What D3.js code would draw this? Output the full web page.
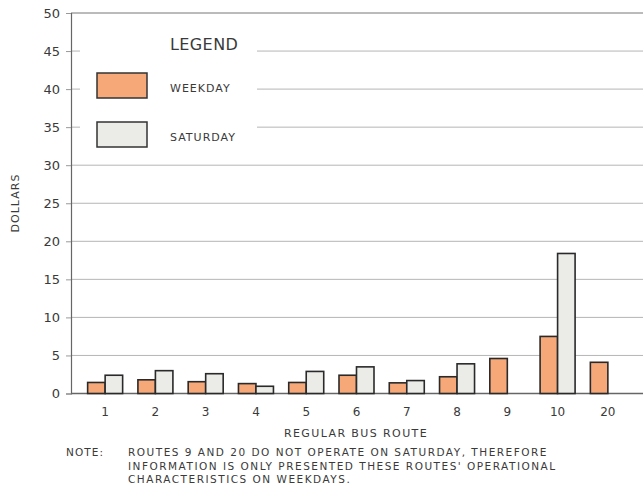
<!DOCTYPE html>
<html>
<head>
<meta charset="utf-8">
<script src="https://cdn.jsdelivr.net/npm/d3@7"></script>
<style>
body{margin:0;background:#fff;}
svg{display:block;}
text{font-family:"DejaVu Sans",sans-serif;fill:#3a3a3a;}
</style>
</head>
<body>
<svg id="chart" width="643" height="497"></svg>
<script>
const routes = ["1","2","3","4","5","6","7","8","9","10","20"];
const weekday = [1.45,1.8,1.55,1.3,1.45,2.4,1.4,2.2,4.6,7.5,4.1];
const saturday = [2.4,3.0,2.6,0.95,2.9,3.5,1.7,3.9,null,18.4,null];
const yTicks = [0,5,10,15,20,25,30,35,40,45,50];
const seriesNames = ["WEEKDAY","SATURDAY"];
const noteLines = [
  "ROUTES 9 AND 20 DO NOT OPERATE ON SATURDAY, THEREFORE",
  "INFORMATION IS ONLY PRESENTED THESE ROUTES' OPERATIONAL",
  "CHARACTERISTICS ON WEEKDAYS."
];

const colors = {WEEKDAY:"#f6a878", SATURDAY:"#ebebe7"};
const svg = d3.select("#chart");
const x0 = 71, x1 = 643, yTop = 13, yBase = 393.5;

const y = d3.scaleLinear().domain([0,50]).range([yBase,yTop]);
const x = d3.scaleBand().domain(routes).range([80,633]).padding(0);
const xc = r => x(r) + x.bandwidth()/2;
const barW = 17.5;

// gridlines
svg.append("g").selectAll("line").data(yTicks.filter(d=>d>0)).join("line")
  .attr("x1",x0).attr("x2",x1)
  .attr("y1",d=>y(d)).attr("y2",d=>y(d))
  .attr("stroke",d=>d===50?"#777":"#b5b5b5").attr("stroke-width",1);

// legend background (masks grid lines)
svg.append("rect").attr("x",80).attr("y",25).attr("width",177).attr("height",125).attr("fill","#fff");

// y axis
const yAxis = d3.axisLeft(y).tickValues(yTicks).tickSize(5).tickPadding(6);
const gy = svg.append("g").attr("transform",`translate(${x0},0)`).call(yAxis);
gy.select(".domain").attr("stroke","#666").attr("stroke-width",1.2);
gy.selectAll(".tick line").attr("stroke","#999");
gy.selectAll(".tick text").attr("font-size",13).attr("fill","#444").style("font-family","'DejaVu Sans',sans-serif");

// x axis baseline
const xAxis = d3.axisBottom(x).tickSize(0).tickPadding(14);
const gx = svg.append("g").attr("transform",`translate(0,${yBase})`).call(xAxis);
gx.select(".domain").attr("d",`M${x0},0H${x1}`).attr("stroke","#666").attr("stroke-width",1.5);
gx.selectAll(".tick text").attr("font-size",12).attr("fill","#444").style("font-family","'DejaVu Sans',sans-serif");

// bars
const bars = [];
routes.forEach((r,i)=>{
  bars.push({r, s:"WEEKDAY", v:weekday[i], off:-barW});
  if(saturday[i]!==null) bars.push({r, s:"SATURDAY", v:saturday[i], off:0});
});
svg.append("g").selectAll("rect").data(bars).join("rect")
  .attr("x",d=>xc(d.r)+d.off)
  .attr("y",d=>y(d.v))
  .attr("width",barW)
  .attr("height",d=>yBase-y(d.v))
  .attr("fill",d=>colors[d.s])
  .attr("stroke","#2a2a2a").attr("stroke-width",1.6);

// legend
svg.append("text").attr("x",170).attr("y",50).attr("font-size",16).attr("letter-spacing",0.4).text("LEGEND");
seriesNames.forEach((s,i)=>{
  const yy = 73 + i*49;
  svg.append("rect").attr("x",97).attr("y",yy).attr("width",50).attr("height",25)
    .attr("fill",colors[s]).attr("stroke","#333").attr("stroke-width",1.5);
  svg.append("text").attr("x",170).attr("y",yy+19).attr("font-size",11).attr("letter-spacing",1).text(s);
});

// axis titles
svg.append("text").attr("transform","translate(19,203) rotate(-90)").attr("text-anchor","middle")
  .attr("font-size",11).attr("letter-spacing",1).text("DOLLARS");
svg.append("text").attr("x",356).attr("y",437).attr("text-anchor","middle")
  .attr("font-size",11).attr("letter-spacing",1.4).text("REGULAR BUS ROUTE");

// note
svg.append("text").attr("x",66).attr("y",456).attr("font-size",10.5).attr("letter-spacing",1.1).text("NOTE:");
svg.append("g").selectAll("text").data(noteLines).join("text")
  .attr("x",128).attr("y",(d,i)=>456+i*13.5).attr("font-size",10.5).attr("letter-spacing",1.5).text(d=>d);
</script>
</body>
</html>
